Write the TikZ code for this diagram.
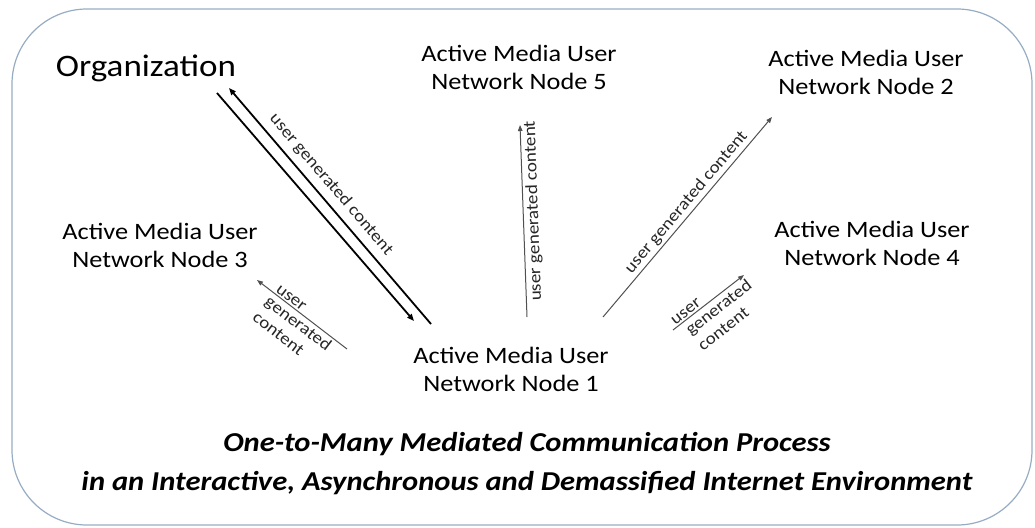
\documentclass[tikz,border=0pt]{standalone}
\usepackage{fontspec}
\setmainfont{Carlito}[FakeStretch=1.12]
\usetikzlibrary{arrows.meta}
\definecolor{frameblue}{RGB}{150,172,196}
\definecolor{linkgray}{RGB}{80,80,80}
\tikzset{
  unode/.style={align=center, font=\fontsize{23.5}{28}\selectfont, inner sep=0pt, anchor=base},
  ugc/.style={font=\fontsize{17}{20}\selectfont, sloped, inner sep=2.5pt, text=black!85},
  twoway/.style={draw=black, line width=1.8pt, -{Triangle[length=7pt,width=5.5pt]}},
  oneway/.style={draw=linkgray, line width=1pt, -{Triangle[length=6pt,width=4.5pt]}},
}
\begin{document}
\begin{tikzpicture}[x=1pt,y=-1pt]
\useasboundingbox (0,0) rectangle (1035,527);

% outer frame
\draw[frameblue, line width=1.2pt, rounded corners=75pt] (12,9) rectangle (1032,525);

% actors (anchor base = baseline of the last line)
\node[unode, font=\fontsize{31.3}{36}\selectfont] (org) at (146,77) {Organization};
\node[unode] (n5) at (519,89) {Active Media User\\Network Node 5};
\node[unode] (n2) at (866,94) {Active Media User\\Network Node 2};
\node[unode] (n3) at (160,267) {Active Media User\\Network Node 3};
\node[unode] (n4) at (872,265) {Active Media User\\Network Node 4};
\node[unode] (n1) at (511,391) {Active Media User\\Network Node 1};

% caption
\node[anchor=base, align=center, font=\fontsize{27.3}{38.5}\selectfont\bfseries\itshape] (cap) at (527,490)
  {One-to-Many Mediated Communication Process\\in an Interactive, Asynchronous and Demassified Internet Environment};

% link end points
\coordinate (a1) at (217,93);  \coordinate (b1) at (414,321);
\coordinate (a2) at (431,324); \coordinate (b2) at (229,88);
\coordinate (a3) at (347,349); \coordinate (b3) at (257,280);
\coordinate (a5) at (527,317); \coordinate (b5) at (520,125);
\coordinate (a6) at (603,317); \coordinate (b6) at (772,117);
\coordinate (a4) at (673,330); \coordinate (b4) at (744,275);

% organization <-> node 1
\draw[twoway] (a1) -- (b1);
\draw[twoway] (a2) -- (b2) node[ugc, above, pos=0.55, inner sep=6.5pt] {user generated content};

% node 1 -> node 3
\draw[oneway] (a3) -- (b3)
  node[ugc, pos=0.83, anchor=south west, inner sep=1.5pt] {user}
  node[ugc, pos=0.85, anchor=north west, align=left] {generated\\content};

% node 1 -> node 5
\draw[oneway] (a5) -- (b5) node[ugc, allow upside down, below, pos=0.55] {user generated content};

% node 1 -> node 2
\draw[oneway] (a6) -- (b6) node[ugc, above, pos=0.54] {user generated content};

% node 1 -> node 4
\draw[oneway] (a4) -- (b4)
  node[ugc, pos=0.03, anchor=south west, inner sep=1.5pt] {user}
  node[ugc, pos=0.08, anchor=north west, align=left, inner sep=3pt] {generated\\content};
\end{tikzpicture}
\end{document}
